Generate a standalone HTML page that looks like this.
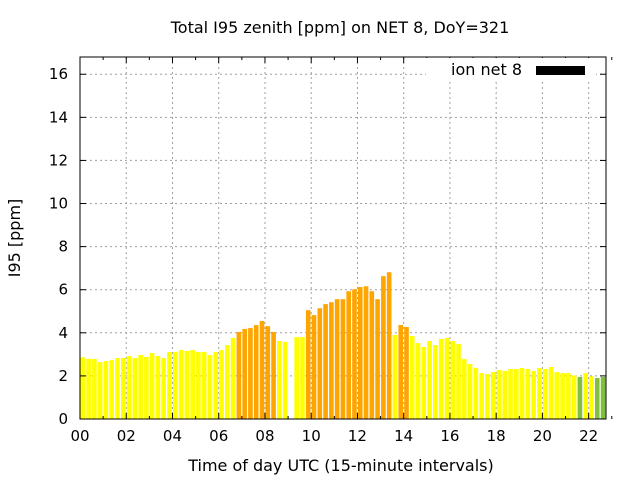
<!DOCTYPE html>
<html><head><meta charset="utf-8"><style>
body{margin:0;background:#fff;}
svg text{font-family:"DejaVu Sans","Liberation Sans",sans-serif;fill:#000;}
</style></head><body>
<svg id="chart" width="640" height="480" viewBox="0 0 640 480" xmlns="http://www.w3.org/2000/svg">
<rect width="640" height="480" fill="#fff"/>
<text x="340" y="33" font-size="16" text-anchor="middle">Total I95 zenith [ppm] on NET 8, DoY=321</text>
<text x="341" y="471" font-size="16" text-anchor="middle">Time of day UTC (15-minute intervals)</text>
<text x="0" y="0" font-size="16" text-anchor="middle" transform="translate(20,238) rotate(-90)">I95 [ppm]</text>
<g id="grid"></g>
<g id="bars"></g>
<g id="axes"></g>
</svg>
<script>
const yTicks=[0,2,4,6,8,10,12,14,16];
const xTickLabels=["00","02","04","06","08","10","12","14","16","18","20","22"];
const xTickHours=[0,2,4,6,8,10,12,14,16,18,20,22];
const values=[2.86,2.79,2.79,2.64,2.69,2.73,2.83,2.83,2.92,2.83,2.97,2.88,3.06,2.92,2.83,3.11,3.11,3.20,3.16,3.20,
3.11,3.11,2.97,3.11,3.20,3.43,3.76,4.04,4.18,4.22,4.36,4.55,4.31,4.04,3.62,3.58,null,3.80,3.80,5.05,
4.82,5.14,5.33,5.42,5.56,5.56,5.93,6.02,6.12,6.16,5.93,5.56,6.63,6.81,3.90,4.36,4.27,3.85,3.52,3.34,
3.62,3.43,3.71,3.76,3.62,3.48,2.78,2.55,2.37,2.13,2.09,2.18,2.27,2.23,2.32,2.32,2.37,2.32,2.23,2.37,
2.32,2.41,2.18,2.13,2.13,2.02,1.95,2.13,1.98,1.90,1.95];
const NS="http://www.w3.org/2000/svg";
const L=80,R=606,T=57,B=419;
const yMax=16.8,xMax=22.75;
function ys(v){return B-(v/yMax)*(B-T);}
function xs(h){return L+(h/xMax)*(R-L);}
function mk(tag,attrs,parent){const e=document.createElementNS(NS,tag);for(const k in attrs)e.setAttribute(k,attrs[k]);parent.appendChild(e);return e;}
const grid=document.getElementById('grid'),bars=document.getElementById('bars'),axes=document.getElementById('axes');
yTicks.forEach(v=>{
  if(v>0){const g=mk('line',{x1:L,x2:R,y1:ys(v),y2:ys(v),stroke:'#a0a0a0','stroke-dasharray':'2,3'},grid);
  
  }
  const t=mk('line',{x1:L,x2:L+6,y1:ys(v),y2:ys(v),stroke:'#000'},axes);
  
  
  const t2=mk('line',{x1:R-6,x2:R,y1:ys(v),y2:ys(v),stroke:'#000'},axes);
  
  
  const lb=mk('text',{x:L-12,y:ys(v)+5,'font-size':15,'text-anchor':'end'},axes);
  lb.textContent=v;
  
  
});
xTickHours.forEach((h,i)=>{
  if(h>0){const g=mk('line',{x1:xs(h),x2:xs(h),y1:T,y2:B,stroke:'#a0a0a0','stroke-dasharray':'2,3'},grid);
  
  }
  const t=mk('line',{x1:xs(h),x2:xs(h),y1:B,y2:B-6,stroke:'#000'},axes);
  
  
  const t2=mk('line',{x1:xs(h),x2:xs(h),y1:T,y2:T+6,stroke:'#000'},axes);
  
  
  const m=mk('line',{x1:xs(h+1),x2:xs(h+1),y1:B,y2:B-3,stroke:'#000'},axes);
  
  
  const m2=mk('line',{x1:xs(h+1),x2:xs(h+1),y1:T,y2:T+3,stroke:'#000'},axes);
  
  
  const lb=mk('text',{x:xs(h),y:B+22,'font-size':15,'text-anchor':'middle'},axes);
  lb.textContent=xTickLabels[i];
  
  
});
const step=(R-L)/values.length;
values.forEach((v,i)=>{
  if(v===null)return;
  const col=v<1.97?'#80c040':(v<4?'#ffff00':'#ffa500');
  const r=mk('rect',{x:L+i*step+0.5,y:ys(v),width:step*0.8,height:B-ys(v),fill:col},bars);
  
  
});
const lg=mk('rect',{x:426,y:58,width:170,height:22,fill:'#fff'},axes);


const lt=mk('text',{x:522,y:75,'font-size':16,'text-anchor':'end'},axes);
lt.textContent='ion net 8';


const ls=mk('rect',{x:536,y:66,width:49,height:9,fill:'#000'},axes);


const fr=mk('rect',{x:L,y:T,width:R-L,height:B-T,fill:'none',stroke:'#000','stroke-width':1},axes);


</script>
</body></html>
